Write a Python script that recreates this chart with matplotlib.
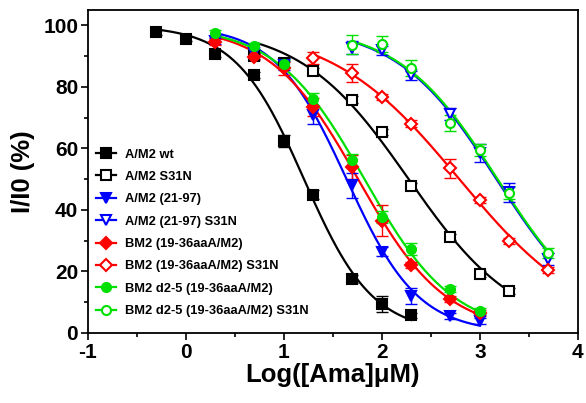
import numpy as np
import matplotlib
matplotlib.use('Agg')
import matplotlib.pyplot as plt

plt.rcParams['font.family'] = ['Liberation Sans', 'DejaVu Sans']
plt.rcParams['font.weight'] = 'bold'
plt.rcParams['axes.unicode_minus'] = False

# log10 of amantadine concentration (uM) and I/I0 (%)
wt_x = [-0.3, 0.0, 0.3, 0.7, 1.0, 1.3, 1.7, 2.0, 2.3]
wt_y = [97.8, 95.7, 90.8, 84.0, 62.3, 45.0, 17.5, 9.4, 5.8]
wt_e = [0.8, 0.8, 1.0, 1.0, 2.0, 1.5, 1.2, 2.5, 0.8]

s31n_x = [0.7, 1.0, 1.3, 1.7, 2.0, 2.3, 2.7, 3.0, 3.3]
s31n_y = [90.0, 87.9, 85.1, 75.9, 65.4, 47.8, 31.3, 19.2, 13.6]
s31n_e = [1.0, 1.5, 1.0, 1.0, 1.0, 1.0, 1.0, 1.0, 1.0]

tm_x = [0.3, 0.7, 1.0, 1.3, 1.7, 2.0, 2.3, 2.7, 3.0]
tm_y = [94.9, 91.2, 87.0, 70.8, 48.0, 26.4, 12.0, 5.5, 4.0]
tm_e = [1.0, 1.0, 1.5, 3.0, 4.0, 1.5, 2.5, 1.0, 1.0]

tms_x = [1.7, 2.0, 2.3, 2.7, 3.0, 3.3, 3.7]
tms_y = [92.8, 91.9, 83.8, 71.3, 58.5, 45.7, 24.0]
tms_e = [2.0, 1.5, 1.5, 2.0, 3.0, 3.0, 2.0]

bm2_x = [0.3, 0.7, 1.0, 1.3, 1.7, 2.0, 2.3, 2.7, 3.0]
bm2_y = [94.5, 89.8, 86.0, 73.5, 54.0, 36.5, 22.0, 10.9, 6.6]
bm2_e = [1.0, 1.0, 2.0, 3.0, 4.0, 5.0, 1.0, 1.0, 1.0]

bm2s_x = [1.3, 1.7, 2.0, 2.3, 2.7, 3.0, 3.3, 3.7]
bm2s_y = [89.5, 84.5, 76.7, 68.1, 53.5, 43.2, 30.0, 20.5]
bm2s_e = [2.0, 3.0, 1.0, 1.0, 3.0, 1.0, 1.0, 1.0]

d25_x = [0.3, 0.7, 1.0, 1.3, 1.7, 2.0, 2.3, 2.7, 3.0]
d25_y = [97.6, 93.3, 87.6, 76.0, 56.2, 37.8, 27.3, 14.3, 7.1]
d25_e = [1.0, 1.0, 1.0, 2.0, 2.0, 2.0, 2.0, 1.0, 1.0]

d25s_x = [1.7, 2.0, 2.3, 2.7, 3.0, 3.3, 3.7]
d25s_y = [93.8, 94.0, 86.2, 68.3, 59.5, 45.5, 26.0]
d25s_e = [3.0, 2.5, 2.5, 2.5, 2.0, 2.0, 1.5]


def hill(x, c, h):
    return 100.0 / (1.0 + 10 ** ((x - c) * h))


def fit(x, y):
    # log(inhibitor) vs normalized response, variable slope
    x = np.asarray(x, float)
    y = np.asarray(y, float)
    yy = np.clip(y, 1, 99)
    h, b = np.polyfit(x, np.log10(100 / yy - 1), 1)
    p = np.array([-b / h, h])
    for _ in range(60):
        f = hill(x, *p)
        J = np.empty((len(x), 2))
        for i in range(2):
            dp = np.zeros(2)
            dp[i] = 1e-6
            J[:, i] = (hill(x, *(p + dp)) - f) / 1e-6
        step = np.linalg.lstsq(J, y - f, rcond=None)[0]
        p = p + step
    return p


series = [
    (wt_x, wt_y, wt_e, 'black', 's', True, 'A/M2 wt'),
    (s31n_x, s31n_y, s31n_e, 'black', 's', False, 'A/M2 S31N'),
    (tm_x, tm_y, tm_e, 'blue', 'v', True, 'A/M2 (21-97)'),
    (tms_x, tms_y, tms_e, 'blue', 'v', False, 'A/M2 (21-97) S31N'),
    (bm2_x, bm2_y, bm2_e, 'red', 'D', True, 'BM2 (19-36aaA/M2)'),
    (bm2s_x, bm2s_y, bm2s_e, 'red', 'D', False, 'BM2 (19-36aaA/M2) S31N'),
    (d25_x, d25_y, d25_e, '#00e000', 'o', True, 'BM2 d2-5 (19-36aaA/M2)'),
    (d25s_x, d25s_y, d25s_e, '#00e000', 'o', False, 'BM2 d2-5 (19-36aaA/M2) S31N'),
]

fig = plt.figure(figsize=(5.86, 4.03), dpi=100)
ax = fig.add_axes([0.150, 0.174, 0.836, 0.801])

handles = []
for x, y, e, col, mk, filled, lab in series:
    p = fit(x, y)
    xs = np.linspace(x[0], x[-1], 200)
    ax.plot(xs, hill(xs, *p), color=col, lw=1.6, zorder=2)
    ms = 6.5 if mk != 'D' else 6.5
    ax.errorbar(x, y, yerr=e, fmt='none', ecolor=col, elinewidth=1, capsize=4,
                capthick=1, zorder=3)
    ax.plot(x, y, ls='none', marker=mk, ms=ms, color=col,
            mfc=col if filled else 'white', mec=col, mew=1.5, zorder=4)
    lh, = ax.plot([], [], color=col, lw=1.6, marker=mk, ms=ms,
                  mfc=col if filled else 'white', mec=col, mew=1.5, label=lab)
    handles.append(lh)

ax.set_xlim(-1, 4)
ax.set_ylim(0, 105)
ax.set_xticks([-1, 0, 1, 2, 3, 4])
ax.set_xticks(np.arange(-0.5, 4, 1), minor=True)
ax.set_yticks([0, 20, 40, 60, 80, 100])
ax.set_yticks(np.arange(10, 100, 20), minor=True)
ax.tick_params(which='major', direction='out', length=5, width=1.2,
               labelsize=15, pad=2, top=False, right=False)
ax.tick_params(which='minor', direction='out', length=3, width=1.2)
for lbl in ax.get_xticklabels() + ax.get_yticklabels():
    lbl.set_fontweight('bold')
for s in ax.spines.values():
    s.set_linewidth(1.3)

ax.set_xlabel('Log([Ama]\u03bcM)', fontsize=18.5, fontweight='bold', labelpad=1)
ax.set_ylabel('I/I0 (%)', fontsize=18.5, fontweight='bold', labelpad=6)

ax.legend(handles=handles, loc='upper left', bbox_to_anchor=(0.0, 0.595),
          frameon=False, handlelength=1.6, handletextpad=0.7,
          labelspacing=0.8, borderaxespad=0.2, prop={'weight': 'bold', 'size': 9.3})

fig.savefig('out.png', dpi=100)
